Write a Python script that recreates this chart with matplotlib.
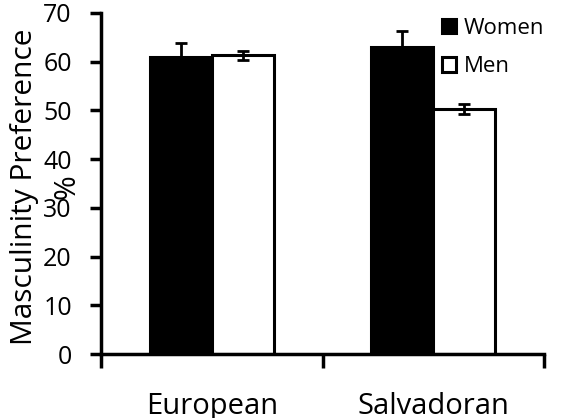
import matplotlib
matplotlib.use("Agg")
import matplotlib.pyplot as plt
import numpy as np

plt.rcParams['font.family'] = ['Open Sans', 'DejaVu Sans']

categories = ["European", "Salvadoran"]
series = ["Women", "Men"]
women = [60.9, 63.0]
women_err = [3.0, 3.3]
men = [61.3, 50.3]
men_err = [1.0, 1.0]
yticks = [0, 10, 20, 30, 40, 50, 60, 70]

fig = plt.figure(figsize=(5.65, 4.18), dpi=100)
ax = fig.add_axes([0.1788, 0.1531, 0.784, 0.8158])

x = np.arange(len(categories))
w = 0.28
lw = 2.2
ax.bar(x - w / 2, women, w, color="black", edgecolor="black", linewidth=lw,
       label=series[0], zorder=2)
ax.bar(x + w / 2, men, w, color="white", edgecolor="black", linewidth=lw,
       label=series[1], zorder=2)
ax.errorbar(x - w / 2, women, yerr=[[0, 0], women_err], fmt="none", ecolor="black",
            elinewidth=2, capsize=4, capthick=2, zorder=3)
ax.errorbar(x + w / 2, men, yerr=men_err, fmt="none", ecolor="black",
            elinewidth=2, capsize=4, capthick=2, zorder=3)

ax.set_xlim(-0.5, 1.5)
ax.set_ylim(0, 70)
ax.set_yticks(yticks)
ax.tick_params(axis="y", labelsize=18, width=2.5, length=8, pad=13)
ax.set_xticks(x)
ax.set_xticklabels(categories, fontsize=21)
ax.set_xticks([-0.5, 0.5, 1.5], minor=True)
ax.tick_params(axis="x", which="major", length=0, pad=27)
ax.tick_params(axis="x", which="minor", length=10, width=2.5)

for s in ["top", "right"]:
    ax.spines[s].set_visible(False)
for s in ["left", "bottom"]:
    ax.spines[s].set_linewidth(2.5)

ax.set_ylabel("Masculinity Preference\n%", fontsize=21.5, va="center",
              linespacing=1.65)
ax.yaxis.set_label_coords(-0.125, 0.49)

ax.legend(loc="upper right", bbox_to_anchor=(1.045, 1.045), frameon=False,
          fontsize=16, handlelength=0.63, handleheight=0.63, handletextpad=0.35,
          labelspacing=0.8)

fig.savefig("out.png", dpi=100)
